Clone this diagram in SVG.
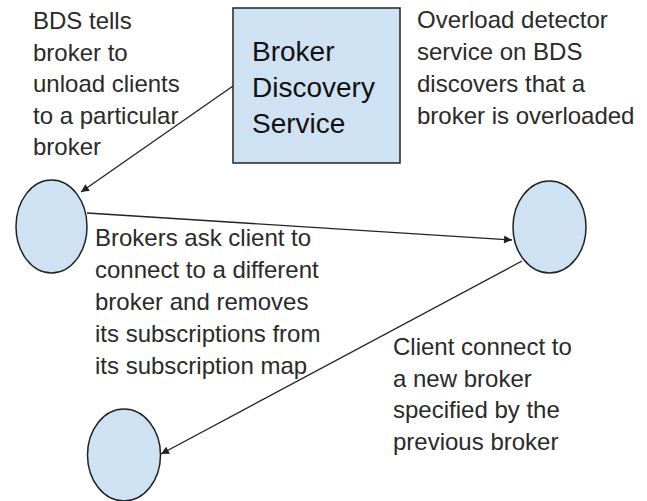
<svg xmlns="http://www.w3.org/2000/svg" width="647" height="501" viewBox="0 0 647 501">
<defs>
<style>
.node{fill:#cfe2f3;stroke:#222;stroke-width:1.5}
.lbl{font-family:"Liberation Sans",Arial,sans-serif;font-size:24px;fill:#2a2a2a}
.big{font-family:"Liberation Sans",Arial,sans-serif;font-size:28px;fill:#111}
.edge{stroke:#222;stroke-width:1.3;fill:none;marker-end:url(#ah)}
</style>
<marker id="ah" viewBox="0 0 10 10" refX="10" refY="5" markerWidth="9" markerHeight="8" markerUnits="userSpaceOnUse" orient="auto">
<path d="M0,0 L10,5 L0,10 z" fill="#222"/>
</marker>
</defs>
<rect width="647" height="501" fill="#fff"/>
<g id="bds">
<rect class="node" x="233" y="8" width="167" height="155"/>
<text class="big" x="252" y="61">Broker</text>
<text class="big" x="252" y="97">Discovery</text>
<text class="big" x="252" y="133">Service</text>
</g>
<g id="broker1"><ellipse class="node" cx="51.5" cy="226.5" rx="35.5" ry="46.5"/></g>
<g id="broker2"><ellipse class="node" cx="549.5" cy="227" rx="36.5" ry="46"/></g>
<g id="broker3"><ellipse class="node" cx="124" cy="455" rx="36.5" ry="46"/></g>
<g id="connectors">
<line class="edge" x1="233" y1="86" x2="81" y2="192"/>
<line class="edge" x1="87" y1="213" x2="512" y2="240"/>
<line class="edge" x1="522" y1="261" x2="161" y2="454"/>
</g>
<g id="labels">
<text class="lbl" x="33"><tspan x="33" y="29">BDS tells</tspan><tspan x="33" y="60.5">broker to</tspan><tspan x="33" y="92">unload clients</tspan><tspan x="33" y="123.5">to a particular</tspan><tspan x="33" y="155">broker</tspan></text>
<text class="lbl" x="417"><tspan x="417" y="28">Overload detector</tspan><tspan x="417" y="60">service on BDS</tspan><tspan x="417" y="91.5">discovers that a</tspan><tspan x="417" y="123.5">broker is overloaded</tspan></text>
<text class="lbl" x="95"><tspan x="95" y="246">Brokers ask client to</tspan><tspan x="95" y="278">connect to a different</tspan><tspan x="95" y="310">broker and removes</tspan><tspan x="95" y="342">its subscriptions from</tspan><tspan x="95" y="374">its subscription map</tspan></text>
<text class="lbl" x="393"><tspan x="393" y="355">Client connect to</tspan><tspan x="393" y="387">a new broker</tspan><tspan x="393" y="418">specified by the</tspan><tspan x="393" y="450">previous broker</tspan></text>
</g>
</svg>
